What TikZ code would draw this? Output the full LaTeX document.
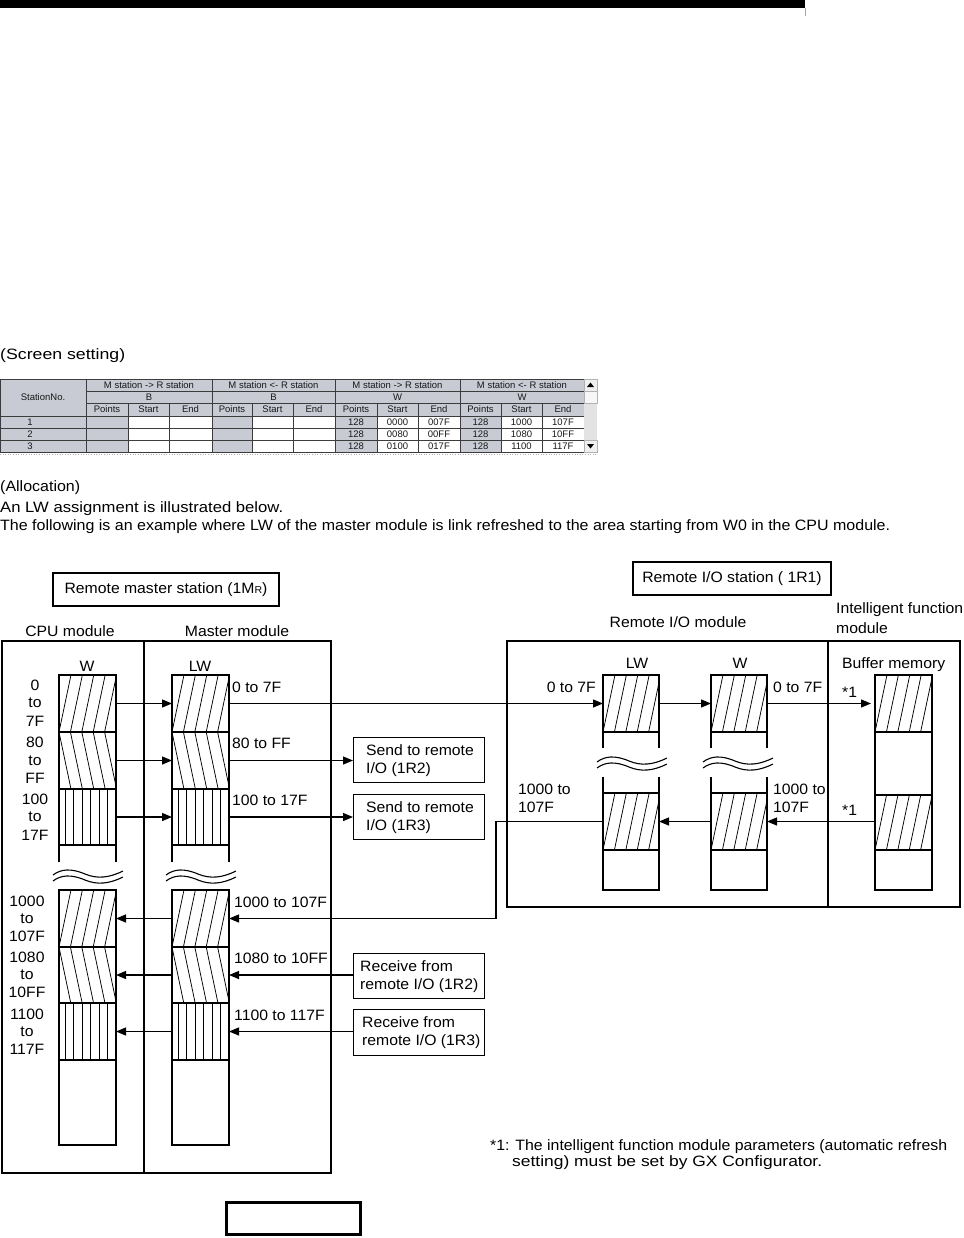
\documentclass[tikz,border=0pt]{standalone}
\usepackage{fontspec}
\usepackage{graphicx}
\setmainfont{Liberation Sans}
\newfontfamily\lblfont{Liberation Sans}[FakeStretch=1.05]
\usetikzlibrary{arrows.meta}
\definecolor{tblgray}{RGB}{200,203,212}
\definecolor{gridc}{RGB}{60,60,60}
\newcommand\brkwave[2]{%
  \draw[line width=1.1pt] (#1,#2+6) .. controls (#1+8,#2) and (#1+18,#2-1) .. (#1+32,#2+5) .. controls (#1+44,#2+10) and (#1+56,#2+9) .. (#1+70,#2+2);
  \draw[line width=1.1pt] (#1,#2+12) .. controls (#1+8,#2+6) and (#1+18,#2+5) .. (#1+32,#2+11) .. controls (#1+44,#2+16) and (#1+56,#2+15) .. (#1+70,#2+8);
}
\tikzset{
  lbl/.style={font=\lblfont\fontsize{15}{18}\selectfont, inner sep=0pt},
  tbl/.style={font=\fontsize{9.5}{10}\selectfont, inner sep=0pt, text=black!90},
  txt/.style={font=\fontsize{15}{18}\selectfont, inner sep=0pt, anchor=west},
  blk/.style={draw, line width=1.3pt, minimum width=57pt, inner sep=0pt, outer sep=0pt, anchor=north west},
  hfwd/.style={path picture={\foreach \k in {0,...,4}{\draw[line width=0.75pt] ([xshift=\k*11.4pt]path picture bounding box.south west) -- ++(12.6pt,60pt);}}},
  hback/.style={path picture={\foreach \k in {0,...,4}{\draw[line width=0.75pt] ([xshift=\k*11.4pt]path picture bounding box.north west) -- ++(12.6pt,-60pt);}}},
  hvert/.style={path picture={\foreach \k in {0,...,5}{\draw[line width=0.75pt] ([xshift=6pt+\k*8.5pt]path picture bounding box.south west) -- ++(0pt,60pt);}}},
  wall/.style={line width=1.3pt},
  arr/.style={line width=1.2pt, -{Triangle[length=10pt,width=8pt]}},
  tbox/.style={draw, line width=1.3pt, inner sep=0pt, anchor=north west, minimum width=131pt},
  tboxtext/.style={lbl, anchor=west, align=left},
}
\begin{document}
\begin{tikzpicture}[x=1pt,y=-1pt]
\useasboundingbox (0,0) rectangle (963,1238);
\fill[white] (0,0) rectangle (963,1238);

% top bar
\fill[black] (0,0) rectangle (805,8);
\draw[gray!70, line width=0.6pt] (805.3,8) -- (805.3,16);

% screen setting
\node[txt] (screenlbl) at (0,356) {\resizebox{125pt}{\height}{(Screen setting)}};

% table
\fill[tblgray] (0,379) rectangle (584,416);
\fill[tblgray] (0,416) rectangle (86,452);
\foreach \a/\b in {86/128,212/252,335/377,460/501} \fill[tblgray] (\a,416) rectangle (\b,452);
\begin{scope}[gridc, line width=0.6pt]
\draw (0,379) -- (584,379) (0,416) -- (584,416) (0,428) -- (584,428) (0,440) -- (584,440) (0,452) -- (584,452)
      (86,391) -- (584,391) (86,403) -- (584,403);
\foreach \x in {0,86,212,335,460,584} \draw (\x,379) -- (\x,452);
\foreach \x in {128,169,252,293,377,418,501,542} \draw (\x,403) -- (\x,452);
\end{scope}
\node[tbl] (stno) at (43,397.5) {StationNo.};
\node[tbl] (g1) at (149,385) {M station -> R station};
\node[tbl] (g2) at (273.5,385) {M station <- R station};
\node[tbl] (g3) at (397.5,385) {M station -> R station};
\node[tbl] (g4) at (522,385) {M station <- R station};
\node[tbl] (d1) at (149,397) {B};
\node[tbl] (d2) at (273.5,397) {B};
\node[tbl] (d3) at (397.5,397) {W};
\node[tbl] (d4) at (522,397) {W};
\foreach \c/\t [count=\i] in {107/Points,148.5/Start,190.5/End,232/Points,272.5/Start,314/End,356/Points,397.5/Start,439/End,480.5/Points,521.5/Start,563/End}
  \node[tbl] (h\i) at (\c,409.5) {\t};
\node[tbl] (r1) at (30,422) {1};
\node[tbl] (r2) at (30,434) {2};
\node[tbl] (r3) at (30,446) {3};
\foreach \y/\a/\b/\c/\d/\e/\f [count=\i] in {422/128/0000/007F/128/1000/107F,434/128/0080/00FF/128/1080/10FF,446/128/0100/017F/128/1100/117F}{
  \node[tbl] (v\i a) at (356,\y) {\a};
  \node[tbl] (v\i b) at (397.5,\y) {\b};
  \node[tbl] (v\i c) at (439,\y) {\c};
  \node[tbl] (v\i d) at (480.5,\y) {\d};
  \node[tbl] (v\i e) at (521.5,\y) {\e};
  \node[tbl] (v\i f) at (563,\y) {\f};
}
% scrollbar
\fill[gray!22] (584,403) rectangle (597,440);
\draw[gray!60, line width=0.5pt, fill=gray!12] (584,379) rectangle (597,391);
\draw[gray!60, line width=0.5pt, fill=gray!6] (584,391) rectangle (597,403);
\draw[gray!60, line width=0.5pt, fill=gray!12] (584,440) rectangle (597,452);
\fill[black] (590.5,382.5) -- (594,387) -- (587,387) -- cycle;
\fill[black] (590.5,448.5) -- (594,444) -- (587,444) -- cycle;
\draw[gray!60, dotted, line width=0.6pt] (0,454) -- (597,454);

% allocation text
\node[txt] (alloc) at (0,488) {\resizebox{80pt}{\height}{(Allocation)}};
\node[txt] (alloc2) at (0,509) {\resizebox{283pt}{\height}{An LW assignment is illustrated below.}};
\node[txt] (alloc3) at (0,527) {\resizebox{890pt}{\height}{The following is an example where LW of the master module is link refreshed to the area starting from W0 in the CPU module.}};

% station titles
\node[draw, line width=1.2pt, minimum width=226pt, minimum height=33pt, inner sep=0pt, font=\lblfont\fontsize{15}{18}\selectfont] (mtitle) at (166,589.5) {Remote master station (1M{\fontsize{10}{12}\selectfont R})};
\node[draw, line width=1.2pt, minimum width=198pt, minimum height=33pt, inner sep=0pt, font=\lblfont\fontsize{15}{18}\selectfont] (rtitle) at (732,578.5) {Remote I/O station ( 1R1)};

\node[lbl] (cpulbl) at (70,631) {CPU module};
\node[lbl] (mstlbl) at (237,631) {Master module};
\node[lbl] (riolbl) at (678,622) {Remote I/O module};
\node[lbl, anchor=west] (intl1) at (836,610) {Intelligent function};
\node[lbl, anchor=west] (intl2) at (836,628) {module};

% outer boxes
\draw[line width=1.5pt] (2,641) rectangle (331,1173);
\draw[line width=1.5pt] (144,641) -- (144,1173);
\draw[line width=1.5pt] (507,641) rectangle (960,907);
\draw[line width=1.5pt] (828,641) -- (828,907);

\node[lbl] (wlbl) at (87,666) {W};
\node[lbl] (lwlbl) at (200,666) {LW};
\node[lbl] (rlwlbl) at (637,663) {LW};
\node[lbl] (rwlbl) at (740,663) {W};
\node[lbl, anchor=west] (buflbl) at (842,665) {Buffer memory};

% CPU W column
\node[blk, minimum height=57pt, hfwd] (cpuA) at (59,675) {};
\node[blk, minimum height=57pt, hback] (cpuB) at (59,732) {};
\node[blk, minimum height=56pt, hvert] (cpuC) at (59,789) {};
\node[blk, minimum height=57pt, hfwd] (cpuD) at (59,890) {};
\node[blk, minimum height=56pt, hback] (cpuE) at (59,947) {};
\node[blk, minimum height=57pt, hvert] (cpuF) at (59,1003) {};
\node[blk, minimum height=85pt] (cpuG) at (59,1060) {};
% Master LW column
\node[blk, minimum height=57pt, hfwd] (lwA) at (172,675) {};
\node[blk, minimum height=57pt, hback] (lwB) at (172,732) {};
\node[blk, minimum height=56pt, hvert] (lwC) at (172,789) {};
\node[blk, minimum height=57pt, hfwd] (lwD) at (172,890) {};
\node[blk, minimum height=56pt, hback] (lwE) at (172,947) {};
\node[blk, minimum height=57pt, hvert] (lwF) at (172,1003) {};
\node[blk, minimum height=85pt] (lwG) at (172,1060) {};
\draw[wall] (59,845) -- (59,862) (116,845) -- (116,862) (172,845) -- (172,862) (229,845) -- (229,862);
\brkwave{53}{869}
\brkwave{166}{869}

% remote columns
\node[blk, minimum width=56pt, minimum height=57pt, hfwd] (rlwA) at (603,675) {};
\node[blk, minimum width=56pt, minimum height=57pt, hfwd] (rlwB) at (603,793) {};
\node[blk, minimum width=56pt, minimum height=40pt] (rlwC) at (603,850) {};
\node[blk, minimum width=56pt, minimum height=57pt, hfwd] (rwA) at (711,675) {};
\node[blk, minimum width=56pt, minimum height=57pt, hfwd] (rwB) at (711,793) {};
\node[blk, minimum width=56pt, minimum height=40pt] (rwC) at (711,850) {};
\draw[wall] (603,732) -- (603,748) (659,732) -- (659,748) (711,732) -- (711,748) (767,732) -- (767,748);
\draw[wall] (603,777) -- (603,793) (659,777) -- (659,793) (711,777) -- (711,793) (767,777) -- (767,793);
\brkwave{597}{756}
\brkwave{703}{756}
\node[blk, minimum height=57pt, hfwd] (bufA) at (875,675) {};
\node[blk, minimum height=63pt] (bufM) at (875,732) {};
\node[blk, minimum height=55pt, hfwd] (bufB) at (875,795) {};
\node[blk, minimum height=40pt] (bufC) at (875,850) {};

% send / receive boxes
\node[tbox, minimum height=45pt] (sendA) at (353,737) {};
\node[tbox, minimum height=45pt] (sendB) at (353,794) {};
\node[tbox, minimum height=45pt] (recvA) at (353,953) {};
\node[tbox, minimum height=46pt] (recvB) at (353,1009) {};
\node[tboxtext] (sendAt) at (366,760.5) {Send to remote\\I/O (1R2)};
\node[tboxtext] (sendBt) at (366,817.5) {Send to remote\\I/O (1R3)};
\node[tboxtext] (recvAt) at (360,976.5) {Receive from\\remote I/O (1R2)};
\node[tboxtext] (recvBt) at (362,1032.5) {Receive from\\remote I/O (1R3)};

% CPU side address labels
\node[lbl] (a1) at (35,685) {0};
\node[lbl] (a2) at (35,703) {to};
\node[lbl] (a3) at (35,721) {7F};
\node[lbl] (b1) at (35,742.5) {80};
\node[lbl] (b2) at (35,760.5) {to};
\node[lbl] (b3) at (35,778.5) {FF};
\node[lbl] (c1) at (35,799) {100};
\node[lbl] (c2) at (35,817) {to};
\node[lbl] (c3) at (35,835) {17F};
\node[lbl] (e1) at (27,901) {1000};
\node[lbl] (e2) at (27,918.5) {to};
\node[lbl] (e3) at (27,936) {107F};
\node[lbl] (f1) at (27,957.5) {1080};
\node[lbl] (f2) at (27,975) {to};
\node[lbl] (f3) at (27,992.5) {10FF};
\node[lbl] (g1l) at (27,1014) {1100};
\node[lbl] (g2l) at (27,1031.5) {to};
\node[lbl] (g3l) at (27,1049) {117F};
% master labels
\node[lbl, anchor=west] (m1) at (232,687) {0 to 7F};
\node[lbl, anchor=west] (m2) at (232,743) {80 to FF};
\node[lbl, anchor=west] (m3) at (232,800) {100 to 17F};
\node[lbl, anchor=west] (m4) at (234,902) {1000 to 107F};
\node[lbl, anchor=west] (m5) at (234,958) {1080 to 10FF};
\node[lbl, anchor=west] (m6) at (234,1015) {1100 to 117F};
% remote labels
\node[lbl, anchor=east] (q1) at (596,687) {0 to 7F};
\node[lbl, anchor=west] (q2) at (773,687) {0 to 7F};
\node[lbl, anchor=west] (q3) at (842,692) {*1};
\node[lbl, anchor=west] (q4) at (518,789) {1000 to};
\node[lbl, anchor=west] (q5) at (518,807) {107F};
\node[lbl, anchor=west] (q6) at (773,789) {1000 to};
\node[lbl, anchor=west] (q7) at (773,807) {107F};
\node[lbl, anchor=west] (q8) at (842,810) {*1};

% connectors
\draw[arr] (cpuA.east) -- (lwA.west);
\draw[arr] (cpuB.east) -- (lwB.west);
\draw[arr] (cpuC.east) -- (lwC.west);
\draw[arr] (lwA.east) -- (rlwA.west);
\draw[arr] (lwB.east) -- (lwB.east -| sendA.west);
\draw[arr] (lwC.east) -- (lwC.east -| sendB.west);
\draw[arr] (lwD.west) -- (cpuD.east);
\draw[arr] (lwE.west) -- (cpuE.east);
\draw[arr] (lwF.west) -- (cpuF.east);
\draw[arr] (recvA.west |- lwE.east) -- (lwE.east);
\draw[arr] (recvB.west |- lwF.east) -- (lwF.east);
\coordinate (bendX) at (496,0);
\draw[arr] (rlwB.west) -- (rlwB.west -| bendX) |- (lwD.east);
\draw[arr] (rlwA.east) -- (rwA.west);
\draw[arr, shorten >=4pt] (rwA.east) -- (bufA.west);
\draw[arr] (bufB.west |- rwB.east) -- (rwB.east);
\draw[arr] (rwB.west) -- (rlwB.east);

% footnote
\node[txt] (fn1) at (490,1147) {\resizebox{457pt}{\height}{*1: The intelligent function module parameters (automatic refresh}};
\node[txt] (fn2) at (512,1163) {\resizebox{310pt}{\height}{setting) must be set by GX Configurator.}};

% bottom box
\draw[line width=3pt] (226.5,1202.5) rectangle (360.5,1234.5);
\end{tikzpicture}
\end{document}
